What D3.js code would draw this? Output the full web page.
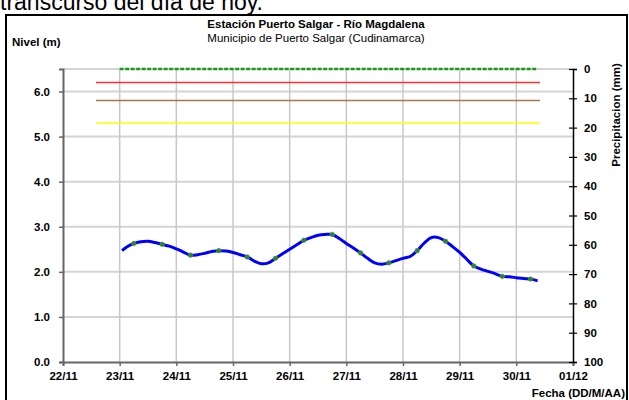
<!DOCTYPE html>
<html>
<head>
<meta charset="utf-8">
<script src="https://cdn.jsdelivr.net/npm/d3@7"></script>
<style>
  html, body { margin: 0; padding: 0; background: #fff; }
  svg { display: block; font-family: "Liberation Sans", Arial, sans-serif; }
</style>
</head>
<body>
<svg id="chart" width="629" height="400"></svg>
<script>
// hours since 23/11 00:00 and river level (m)
var levelHours = [1, 3, 6, 9, 12, 15, 18, 21, 24, 27, 30, 33, 36, 39, 42, 45, 48, 51, 54, 57,
  60, 63, 66, 69, 72, 75, 78, 81, 84, 87, 90, 93, 96, 99, 102, 105, 108, 111, 114, 117,
  120, 123, 126, 129, 132, 135, 138, 141, 144, 147, 150, 153, 156, 159, 162, 165, 168, 171, 174, 177];
var levelValues = [2.47, 2.55, 2.63, 2.67, 2.68, 2.65, 2.61, 2.57, 2.51, 2.44, 2.37, 2.38, 2.41, 2.45, 2.47, 2.46, 2.43, 2.38, 2.33, 2.24,
  2.18, 2.20, 2.30, 2.40, 2.50, 2.60, 2.70, 2.76, 2.81, 2.83, 2.83, 2.74, 2.63, 2.53, 2.42, 2.30, 2.20, 2.17, 2.20, 2.25,
  2.30, 2.34, 2.47, 2.64, 2.76, 2.76, 2.68, 2.56, 2.43, 2.28, 2.13, 2.06, 2.01, 1.96, 1.90, 1.89, 1.87, 1.85, 1.84, 1.80];

// warning thresholds (m) and the span they are drawn over
var thresholdNames = ['roja', 'naranja', 'amarilla'];
var thresholdValues = [6.2, 5.8, 5.3];
var thresholdColors = ['#ff3030', '#a8784f', '#ffff00'];
var thresholdSpan = [new Date(2014, 10, 22, 14), new Date(2014, 10, 30, 10)];

// precipitation (mm), 0 all week
var precipSpan = [new Date(2014, 10, 23, 0), new Date(2014, 10, 30, 9)];
var precipValues = [0, 0];

var dayTicks = ['22/11', '23/11', '24/11', '25/11', '26/11', '27/11', '28/11', '29/11', '30/11', '01/12'];
var levelTicks = [0, 1, 2, 3, 4, 5, 6];
var precipTicks = [0, 10, 20, 30, 40, 50, 60, 70, 80, 90, 100];

var svg = d3.select('#chart');
var t0 = new Date(2014, 10, 23, 0);
var toDate = function(h) { return new Date(t0.getTime() + h * 3600000); };
var fs = 11.5;

var x = d3.scaleTime().domain([new Date(2014, 10, 22), new Date(2014, 11, 1)]).range([63, 573]);
var y = d3.scaleLinear().domain([0, 6.5]).range([362, 69]);
var yp = d3.scaleLinear().domain([0, 100]).range([69, 362]);
var dayDates = dayTicks.map(function(d, i) { return d3.timeDay.offset(new Date(2014, 10, 22), i); });

// caption text cut off by the top of the picture
svg.append('text').attr('x', 0).attr('y', 10).attr('font-size', 23).attr('fill', '#000')
    .text('transcurso del día de hoy.');

svg.append('rect').attr('x', 6).attr('y', 15).attr('width', 621).attr('height', 395)
    .attr('fill', '#fff').attr('stroke', '#000').attr('stroke-width', 2);

// grid
svg.append('g').selectAll('line').data(levelTicks.slice(1).concat([6.5])).join('line')
    .attr('x1', 63).attr('x2', 573).attr('y1', function(d) { return y(d); }).attr('y2', function(d) { return y(d); })
    .attr('stroke', '#d4d4d4').attr('stroke-width', 2);
svg.append('g').selectAll('line').data(dayDates.slice(1, -1)).join('line')
    .attr('y1', 69).attr('y2', 362).attr('x1', function(d) { return x(d); }).attr('x2', function(d) { return x(d); })
    .attr('stroke', '#c8c8c8').attr('stroke-width', 1.5);

// axes
var xAxis = svg.append('g').attr('transform', 'translate(0,362)')
    .call(d3.axisBottom(x).tickValues(dayDates).tickFormat(function(d, i) { return dayTicks[i]; }).tickSize(4).tickPadding(6));
var yAxis = svg.append('g').attr('transform', 'translate(63,0)')
    .call(d3.axisLeft(y).tickValues(levelTicks).tickFormat(d3.format('.1f')).tickSize(4).tickPadding(9));
var pAxis = svg.append('g').attr('transform', 'translate(573,0)')
    .call(d3.axisRight(yp).tickValues(precipTicks).tickSize(4).tickPadding(7));
[xAxis, yAxis].forEach(function(a) {
  a.select('.domain').attr('stroke', '#666').attr('stroke-width', 2);
  a.selectAll('.tick line').attr('stroke', '#666').attr('stroke-width', 1.5);
});
pAxis.select('.domain').attr('stroke', '#000').attr('stroke-width', 1.5);
pAxis.selectAll('.tick line').attr('x1', -4).attr('stroke', '#000').attr('stroke-width', 1.2);
[xAxis, yAxis, pAxis].forEach(function(a) {
  a.selectAll('.tick text').attr('font-size', fs).attr('font-weight', 'bold').attr('fill', '#000')
      .attr('font-family', '"Liberation Sans", Arial, sans-serif');
});

// thresholds
svg.append('g').selectAll('line').data(thresholdValues).join('line')
    .attr('x1', x(thresholdSpan[0])).attr('x2', x(thresholdSpan[1]))
    .attr('y1', function(d) { return y(d); }).attr('y2', function(d) { return y(d); })
    .attr('stroke', function(d, i) { return thresholdColors[i]; }).attr('stroke-width', 1.5);

// precipitation
svg.append('path').datum(precipValues)
    .attr('d', d3.line().x(function(d, i) { return x(precipSpan[i]); }).y(function(d) { return yp(d); }))
    .attr('fill', 'none').attr('stroke', '#1a9a1a').attr('stroke-width', 2.5).attr('stroke-dasharray', '4,1.5');

// level
var levelData = levelHours.map(function(h, i) { return {date: toDate(h), hour: h, value: levelValues[i]}; });
svg.append('path').datum(levelData)
    .attr('d', d3.line().curve(d3.curveCatmullRom).x(function(d) { return x(d.date); }).y(function(d) { return y(d.value); }))
    .attr('fill', 'none').attr('stroke', '#0000ff').attr('stroke-width', 3);
svg.append('g').selectAll('circle').data(levelData.filter(function(d) { return d.hour % 12 === 6; })).join('circle')
    .attr('cx', function(d) { return x(d.date); }).attr('cy', function(d) { return y(d.value); })
    .attr('r', 2.3).attr('fill', '#228b22').attr('stroke', '#6a8a6a').attr('stroke-width', 0.6);

// titles
svg.append('text').attr('x', 316).attr('y', 28).attr('text-anchor', 'middle')
    .attr('font-size', fs).attr('font-weight', 'bold').text('Estación Puerto Salgar - Río Magdalena');
svg.append('text').attr('x', 316).attr('y', 42).attr('text-anchor', 'middle')
    .attr('font-size', fs).text('Municipio de Puerto Salgar (Cudinamarca)');
svg.append('text').attr('x', 12).attr('y', 46).attr('font-size', fs).attr('font-weight', 'bold').text('Nivel (m)');
svg.append('text').attr('transform', 'translate(620,115) rotate(-90)').attr('text-anchor', 'middle')
    .attr('font-size', fs).attr('font-weight', 'bold').text('Precipitacion (mm)');
svg.append('text').attr('x', 625).attr('y', 397).attr('text-anchor', 'end')
    .attr('font-size', fs).attr('font-weight', 'bold').text('Fecha (DD/M/AA)');
</script>
</body>
</html>
